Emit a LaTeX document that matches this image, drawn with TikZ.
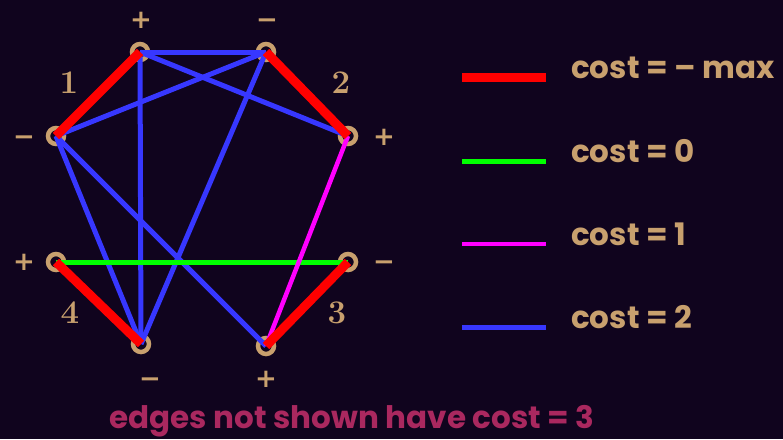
\documentclass[tikz,border=0pt]{standalone}
\usepackage{fontspec}
\newfontfamily\legfont{Poppins}
\newfontfamily\symfont{DejaVu Sans}
\begin{document}
\begin{tikzpicture}[x=1pt,y=-1pt,
  vtx/.style={circle,draw=tan,fill=bgc,line width=4.5pt,minimum size=16pt,inner sep=0pt},
  sign/.style={text=tan,font=\symfont\bfseries\fontsize{26}{28}\selectfont,inner sep=0pt},
  num/.style={text=tan,font=\fontsize{33}{35}\selectfont\bfseries},
  redE/.style={draw=redc,line width=9pt},
  greenE/.style={draw=greenc,line width=5pt},
  magE/.style={draw=magc,line width=4.5pt},
  blueE/.style={draw=bluec,line width=5pt},
  leg/.style={text=tan,font=\legfont\bfseries\fontsize{31}{33}\selectfont,anchor=base west,inner sep=0pt}]
\definecolor{bgc}{RGB}{16,4,30}
\definecolor{tan}{RGB}{200,160,110}
\definecolor{redc}{RGB}{255,0,0}
\definecolor{greenc}{RGB}{0,255,0}
\definecolor{magc}{RGB}{255,0,255}
\definecolor{bluec}{RGB}{55,55,255}
\definecolor{pinkc}{RGB}{170,40,95}
\fill[bgc] (0,0) rectangle (783,439);
\useasboundingbox (0,0) rectangle (783,439);
% vertices
\node[vtx] (A) at (140,52) {};
\node[vtx] (B) at (266,52) {};
\node[vtx] (C) at (348,136) {};
\node[vtx] (D) at (348,262) {};
\node[vtx] (E) at (266,346) {};
\node[vtx] (F) at (141,344) {};
\node[vtx] (G) at (56,262) {};
\node[vtx] (H) at (56,136) {};
% blue edges
\draw[blueE] (A.center) -- (B.center);
\draw[blueE] (A.center) -- (C.center);
\draw[blueE] (A.center) -- (F.center);
\draw[blueE] (B.center) -- (H.center);
\draw[blueE] (B.center) -- (F.center);
\draw[blueE] (H.center) -- (F.center);
\draw[blueE] (H.center) -- (E.center);
% green, magenta
\draw[greenE] (G.center) -- (D.center);
\draw[magE] (C.center) -- (E.center);
% red
\draw[redE] (H.center) -- (A.center);
\draw[redE] (B.center) -- (C.center);
\draw[redE] (D.center) -- (E.center);
\draw[redE] (G.center) -- (F.center);
% signs
\node[sign] (sA) at (141,20) {+};
\node[sign] (sB) at (267,24) {−};
\node[sign] (sC) at (384,137) {+};
\node[sign] (sD) at (384,266) {−};
\node[sign] (sE) at (266,379) {+};
\node[sign] (sF) at (150,383) {−};
\node[sign] (sG) at (24,262) {+};
\node[sign] (sH) at (24,141) {−};
% numbers
\node[num] (n1) at (69,83) {1};
\node[num] (n2) at (341,83) {2};
\node[num] (n3) at (337,313) {3};
\node[num] (n4) at (70,313) {4};
% legend
\coordinate (l1a) at (462,77); \coordinate (l1b) at (546,77);
\coordinate (l2a) at (462,161); \coordinate (l2b) at (546,161);
\coordinate (l3a) at (462,244); \coordinate (l3b) at (546,244);
\coordinate (l4a) at (462,327); \coordinate (l4b) at (546,327);
\draw[redE] (l1a) -- (l1b);
\draw[greenE] (l2a) -- (l2b);
\draw[magE] (l3a) -- (l3b);
\draw[blueE] (l4a) -- (l4b);
\node[leg] (t1) at (571,78) {cost = – max};
\node[leg] (t2) at (571,162) {cost = 0};
\node[leg] (t3) at (571,245) {cost = 1};
\node[leg] (t4) at (571,328) {cost = 2};
\node[text=pinkc,font=\legfont\bfseries\fontsize{31}{33}\selectfont,anchor=base,inner sep=0pt] (foot) at (352,428) {edges not shown have cost = 3};
\end{tikzpicture}
\end{document}
